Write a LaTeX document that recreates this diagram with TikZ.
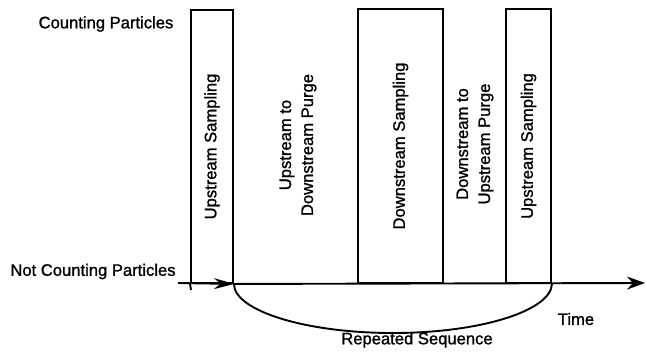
\documentclass[tikz,border=0pt]{standalone}
\usepackage{fontspec}
\setmainfont{Liberation Sans}[BoldFont=Liberation Sans, BoldFeatures={FakeBold=1.2}]
\usetikzlibrary{arrows.meta}
\tikzset{
  lbl/.style={inner sep=0pt, font=\fontsize{16.6}{22}\selectfont\bfseries},
  vlbl/.style={lbl, rotate=90, align=center},
  phase/.style={draw, line width=1.9pt, inner sep=0pt},
  axisline/.style={line width=1.9pt},
}
\begin{document}
\begin{tikzpicture}[x=1pt,y=-1pt]
\useasboundingbox (0,0) rectangle (647,354);
% phase boxes
\node[phase, minimum width=42pt, minimum height=273pt] (b1) at (212,146.5) {};
\node[phase, minimum width=85pt, minimum height=274pt] (b2) at (400.5,146) {};
\node[phase, minimum width=45pt, minimum height=274pt] (b3) at (528.5,146) {};
% texts in boxes
\node[vlbl] (t1) at (b1) {Upstream Sampling};
\node[vlbl] (t2) at (298,145) {Upstream to\\Downstream Purge};
\node[vlbl] (t3) at (b2) {Downstream Sampling};
\node[vlbl] (t4) at (475,144) {Downstream to\\Upstream Purge};
\node[vlbl] (t5) at (b3) {Upstream Sampling};
% axis
\coordinate (a0) at (178,283);
\coordinate (aend) at (645,283);
\coordinate (tick) at (191,290);
\draw[axisline] (b1.south west) -- (tick);
\draw[axisline, -{Stealth[length=20pt,width=11pt]}] (a0) -- (b1.south east);
\draw[axisline, -{Stealth[length=18pt,width=13pt]}] (b1.south east) -- (aend);
% repeated-sequence curve
\coordinate (cb) at (393,333);
\draw[axisline] (b1.south east) .. controls (234,310.6) and (305.2,333) .. (cb)
  .. controls (480.8,333) and (551,310.6) .. (b3.south east);
% labels
\node[lbl] (cp) at (106,24) {Counting Particles};
\node[lbl] (ncp) at (93,271.5) {Not Counting Particles};
\node[lbl] (time) at (576,319) {Time};
\node[lbl] (rep) at (417,340) {Repeated Sequence};
\end{tikzpicture}
\end{document}
